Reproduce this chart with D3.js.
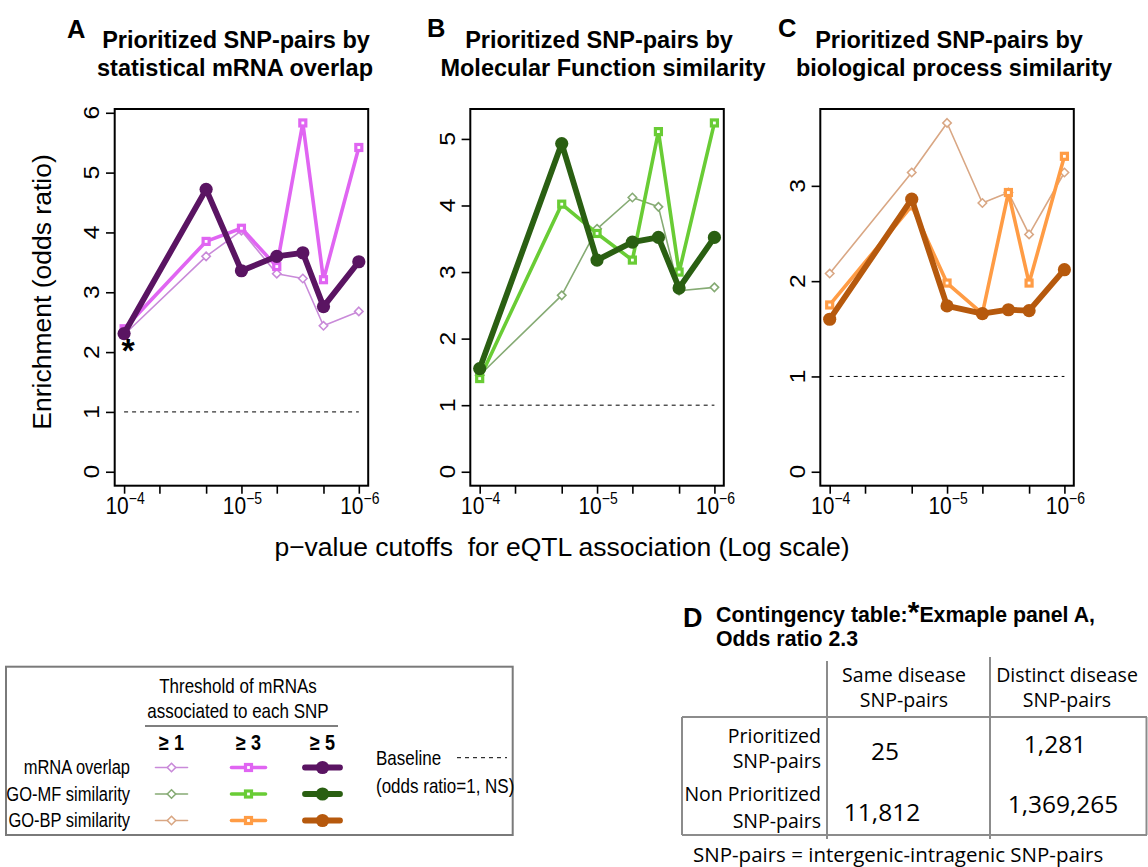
<!DOCTYPE html>
<html>
<head>
<meta charset="utf-8">
<script src="https://cdn.jsdelivr.net/npm/d3@7"></script>
<style>
  body { margin: 0; background: #fff; }
  svg text { font-family: "Liberation Sans", Arial, sans-serif; fill: #000; white-space: pre; }
  svg text.sans2 { font-family: "Open Sans", "Noto Sans", sans-serif; }
</style>
</head>
<body>
<svg id="fig" width="1148" height="867"></svg>
<script>
// eQTL p-value cutoffs where enrichment was evaluated
const cutoffs = [1e-4, 2e-5, 1e-5, 5e-6, 3e-6, 2e-6, 1e-6];
// tick marks on the log axis, and the decades that get a label
const tickCutoffs = [1e-4, 5e-5, 2e-5, 1e-5, 5e-6, 2e-6, 1e-6];
const labeledExponents = [-4, -5, -6];

// odds ratios, panel A (statistical mRNA overlap)
const mrnaGe1 = [2.29, 3.60, 4.03, 3.31, 3.23, 2.44, 2.68];
const mrnaGe3 = [2.39, 3.85, 4.07, 3.43, 5.83, 3.21, 5.42];
const mrnaGe5 = [2.31, 4.72, 3.36, 3.60, 3.66, 2.76, 3.51];
// odds ratios, panel B (GO molecular function similarity)
const mfGe1 = [1.45, 2.65, 3.65, 4.12, 3.98, 2.72, 2.77];
const mfGe3 = [1.40, 4.02, 3.58, 3.18, 5.11, 3.00, 5.24];
const mfGe5 = [1.55, 4.93, 3.18, 3.45, 3.52, 2.76, 3.52];
// odds ratios, panel C (GO biological process similarity)
const bpGe1 = [2.08, 3.14, 3.66, 2.82, 2.93, 2.49, 3.14];
const bpGe3 = [1.75, 2.79, 1.98, 1.66, 2.93, 1.98, 3.31];
const bpGe5 = [1.60, 2.86, 1.74, 1.66, 1.70, 1.69, 2.12];

const baselineValue = 1;
const thresholdLabels = ["\u2265 1", "\u2265 3", "\u2265 5"];
const measureLabels = ["mRNA overlap", "GO-MF similarity", "GO-BP similarity"];

// contingency table for the starred point of panel A
const tableCols = [["Same disease", "SNP-pairs"], ["Distinct disease", "SNP-pairs"]];
const tableRows = [["Prioritized", "SNP-pairs"], ["Non Prioritized", "SNP-pairs"]];
const tableCounts = [[25, 1281], [11812, 1369265]];
const exampleOddsRatio = 2.3;

// ---- styling ----
const mrnaColors = ["#c98ad9", "#e065f2", "#5a1462"];
const mfColors   = ["#86ab74", "#69cc35", "#2a5f12"];
const bpColors   = ["#d9a784", "#ff9c45", "#b6590d"];
const lineWidths = [1.6, 3.6, 5.8];
const markerKinds = ["diamond", "square", "circle"];

const panels = [
  { letter: "A", letterX: 67, letterY: 38, title: ["Prioritized SNP-pairs by", "statistical mRNA overlap"],
    titleX: [236, 235], left: 114.7, series: [mrnaGe1, mrnaGe3, mrnaGe5], colors: mrnaColors, yTitle: true },
  { letter: "B", letterX: 427, letterY: 37, title: ["Prioritized SNP-pairs by", "Molecular Function similarity"],
    titleX: [599, 603], left: 470.3, series: [mfGe1, mfGe3, mfGe5], colors: mfColors },
  { letter: "C", letterX: 778, letterY: 37, title: ["Prioritized SNP-pairs by", "biological process similarity"],
    titleX: [949, 954], left: 820.3, series: [bpGe1, bpGe3, bpGe5], colors: bpColors }
];

const plotTop = 109, plotBottom = 485.7, plotW = 253.5;
const svg = d3.select("#fig");

// text placed at (x, y) with vertically stretched glyphs
function tallText(parent, x, y, sy, extra) {
  return parent.append("text").attr("transform", `translate(${x},${y}) scale(1,${sy})${extra || ""}`);
}

function drawMarker(g, kind, cx, cy, color) {
  if (kind === "diamond") {
    const r = 4.2;
    g.append("path")
      .attr("d", `M${cx},${cy - r}L${cx + r},${cy}L${cx},${cy + r}L${cx - r},${cy}Z`)
      .attr("fill", "#fff").attr("stroke", color).attr("stroke-width", 1.6);
  } else if (kind === "square") {
    const s = 6;
    g.append("rect").attr("x", cx - s / 2).attr("y", cy - s / 2).attr("width", s).attr("height", s)
      .attr("fill", "#fff").attr("stroke", color).attr("stroke-width", 3.2);
  } else {
    g.append("circle").attr("cx", cx).attr("cy", cy).attr("r", 6.6).attr("fill", color);
  }
}

panels.forEach((p, pi) => {
  const g = svg.append("g");
  const logHi = Math.log10(d3.max(cutoffs)), logLo = Math.log10(d3.min(cutoffs));
  const pad = 0.04 * (logHi - logLo);
  const x = d3.scaleLog().domain([10 ** (logHi + pad), 10 ** (logLo - pad)]).range([p.left, p.left + plotW]);
  const ymax = d3.max(p.series.flat());
  const y = d3.scaleLinear().domain([-0.04 * ymax, 1.04 * ymax]).range([plotBottom, plotTop]);

  // panel letter and title
  g.append("text").attr("x", p.letterX).attr("y", p.letterY)
    .attr("font-size", 25.5).attr("font-weight", "bold").text(p.letter);
  p.title.forEach((t, i) => {
    g.append("text").attr("x", p.titleX[i]).attr("y", 47.5 + i * 28.5)
      .attr("text-anchor", "middle").attr("font-size", 23.5).attr("font-weight", "bold").text(t);
  });

  // x axis
  const xa = g.append("g").attr("transform", `translate(0,${plotBottom})`)
    .call(d3.axisBottom(x).tickValues(tickCutoffs).tickSize(8).tickSizeOuter(0).tickFormat(""));
  xa.select(".domain").remove();
  xa.selectAll(".tick line").attr("stroke", "#000").attr("stroke-width", 1.6);
  labeledExponents.forEach(e => {
    const t = tallText(g, x(10 ** e) + 1, 514, 1.12).attr("text-anchor", "middle").attr("font-size", 21);
    t.append("tspan").text("10");
    t.append("tspan").attr("font-size", 14).attr("dy", -8.5).text("\u2212" + (-e));
  });

  // y axis
  const yTicks = d3.range(0, Math.floor(y.domain()[1]) + 1);
  const ya = g.append("g").attr("transform", `translate(${p.left},0)`)
    .call(d3.axisLeft(y).tickValues(yTicks).tickSize(8.7).tickSizeOuter(0).tickFormat(""));
  ya.select(".domain").remove();
  ya.selectAll(".tick line").attr("stroke", "#000").attr("stroke-width", 1.6);
  yTicks.forEach(v => {
    tallText(g, p.left - 15.5, y(v), 1.12, " rotate(-90)")
      .attr("text-anchor", "middle").attr("font-size", 22).text(v);
  });
  if (p.yTitle) {
    g.append("text").attr("transform", `translate(50.5,292) rotate(-90)`)
      .attr("text-anchor", "middle").attr("font-size", 26.5).text("Enrichment (odds ratio)");
  }

  // baseline
  g.append("line")
    .attr("x1", x(d3.max(cutoffs))).attr("x2", x(d3.min(cutoffs)))
    .attr("y1", y(baselineValue)).attr("y2", y(baselineValue))
    .attr("stroke", "#000").attr("stroke-width", 1).attr("stroke-dasharray", "4,4");

  // series: >=1, >=3, >=5 (thickest on top)
  const line = d3.line().x((d, i) => x(cutoffs[i])).y(d => y(d));
  p.series.forEach((s, si) => {
    const sg = g.append("g");
    sg.append("path").attr("d", line(s)).attr("fill", "none")
      .attr("stroke", p.colors[si]).attr("stroke-width", lineWidths[si])
      .attr("stroke-linejoin", "round").attr("stroke-linecap", "round");
    s.forEach((v, i) => drawMarker(sg, markerKinds[si], x(cutoffs[i]), y(v), p.colors[si]));
  });

  // plot frame
  g.append("rect").attr("x", p.left).attr("y", plotTop).attr("width", plotW).attr("height", plotBottom - plotTop)
    .attr("fill", "none").attr("stroke", "#000").attr("stroke-width", 2);

  // star marking the example shown in the contingency table
  if (pi === 0) {
    g.append("text").attr("x", x(cutoffs[0]) + 4).attr("y", y(mrnaGe5[0]) + 28)
      .attr("text-anchor", "middle").attr("font-size", 34).attr("font-weight", "bold").text("*");
  }
});

// shared x-axis title
svg.append("text").attr("x", 562).attr("y", 556).attr("text-anchor", "middle")
  .attr("font-size", 26.5).text("p\u2212value cutoffs  for eQTL association (Log scale)");

// ---- legend ----
const LSY = 1.2;
const lg = svg.append("g");
lg.append("rect").attr("x", 6).attr("y", 666.7).attr("width", 506.7).attr("height", 168.3)
  .attr("fill", "none").attr("stroke", "#7a7a7a").attr("stroke-width", 2);
tallText(lg, 238, 693, LSY).attr("text-anchor", "middle").attr("font-size", 17).text("Threshold of mRNAs");
tallText(lg, 238, 718, LSY).attr("text-anchor", "middle").attr("font-size", 17).text("associated to each SNP");
lg.append("line").attr("x1", 145).attr("x2", 338).attr("y1", 726).attr("y2", 726)
  .attr("stroke", "#000").attr("stroke-width", 1.2);
const legCols = [171.5, 248.5, 322.5];
const legHalf = [16, 17, 17.5];
thresholdLabels.forEach((t, i) => {
  tallText(lg, legCols[i], 750, LSY).attr("text-anchor", "middle")
    .attr("font-size", 18).attr("font-weight", "bold").text(t);
});
const legRows = [767.5, 794, 820.5];
const legColors = [mrnaColors, mfColors, bpColors];
measureLabels.forEach((m, r) => {
  tallText(lg, 130, legRows[r] + 6.5, LSY).attr("text-anchor", "end").attr("font-size", 16.5).text(m);
  thresholdLabels.forEach((t, i) => {
    lg.append("line").attr("x1", legCols[i] - legHalf[i]).attr("x2", legCols[i] + legHalf[i])
      .attr("y1", legRows[r]).attr("y2", legRows[r])
      .attr("stroke", legColors[r][i]).attr("stroke-width", lineWidths[i]).attr("stroke-linecap", "round");
    drawMarker(lg, markerKinds[i], legCols[i], legRows[r], legColors[r][i]);
  });
});
tallText(lg, 376, 765, LSY).attr("font-size", 17).text("Baseline");
lg.append("line").attr("x1", 457).attr("x2", 507).attr("y1", 757.7).attr("y2", 757.7)
  .attr("stroke", "#000").attr("stroke-width", 1).attr("stroke-dasharray", "4,4");
tallText(lg, 376, 793, LSY).attr("font-size", 17).text("(odds ratio=1, NS)");

// ---- panel D: contingency table ----
const tg = svg.append("g");
tg.append("text").attr("x", 683).attr("y", 627).attr("font-size", 27).attr("font-weight", "bold").text("D");
const dTitle = tg.append("text").attr("x", 716).attr("y", 622).attr("font-size", 21.3).attr("font-weight", "bold");
dTitle.append("tspan").text("Contingency table:");
dTitle.append("tspan").attr("font-size", 30).text("*");
dTitle.append("tspan").text("Exmaple panel A,");
tg.append("text").attr("x", 716).attr("y", 645.5).attr("font-size", 21.3).attr("font-weight", "bold")
  .text("Odds ratio " + d3.format(".1f")(exampleOddsRatio));

const gridColor = "#8c8c8c";
const tl = (x1, y1, x2, y2) => tg.append("line").attr("x1", x1).attr("y1", y1).attr("x2", x2).attr("y2", y2)
  .attr("stroke", gridColor).attr("stroke-width", 2);
tl(682, 717, 1147, 717);
tl(682, 835, 1147, 835);
tl(682, 717, 682, 835);
tl(1146.5, 717, 1146.5, 835);
tl(827, 661, 827, 839);
tl(990, 657, 990, 839);

// two-line cell labels, one text element per cell
const colCenters = [904, 1067];
tableCols.forEach((c, i) => {
  const t = tg.append("text").attr("class", "sans2").attr("y", 681.5)
    .attr("text-anchor", "middle").attr("font-size", 19.5);
  c.forEach((line, j) => t.append("tspan").attr("x", colCenters[i]).attr("dy", j ? 25.5 : 0).text(line));
});
const rowFirst = [743, 801], rowGap = [24.5, 27];
tableRows.forEach((r, i) => {
  const t = tg.append("text").attr("class", "sans2").attr("y", rowFirst[i])
    .attr("text-anchor", "end").attr("font-size", 19.5);
  r.forEach((line, j) => t.append("tspan").attr("x", 821).attr("dy", j ? rowGap[i] : 0).text(line));
});
const valuePos = [[[885, 760], [1055, 753]], [[882, 821], [1063, 812.5]]];
const fmt = d3.format(",");
tableCounts.forEach((row, i) => row.forEach((v, j) => {
  tg.append("text").attr("class", "sans2").attr("x", valuePos[i][j][0]).attr("y", valuePos[i][j][1])
    .attr("text-anchor", "middle").attr("font-size", 24.5).text(fmt(v));
}));
tg.append("text").attr("class", "sans2").attr("x", 693).attr("y", 861.5).attr("font-size", 20.5)
  .text("SNP-pairs = intergenic-intragenic SNP-pairs");
</script>
</body>
</html>
